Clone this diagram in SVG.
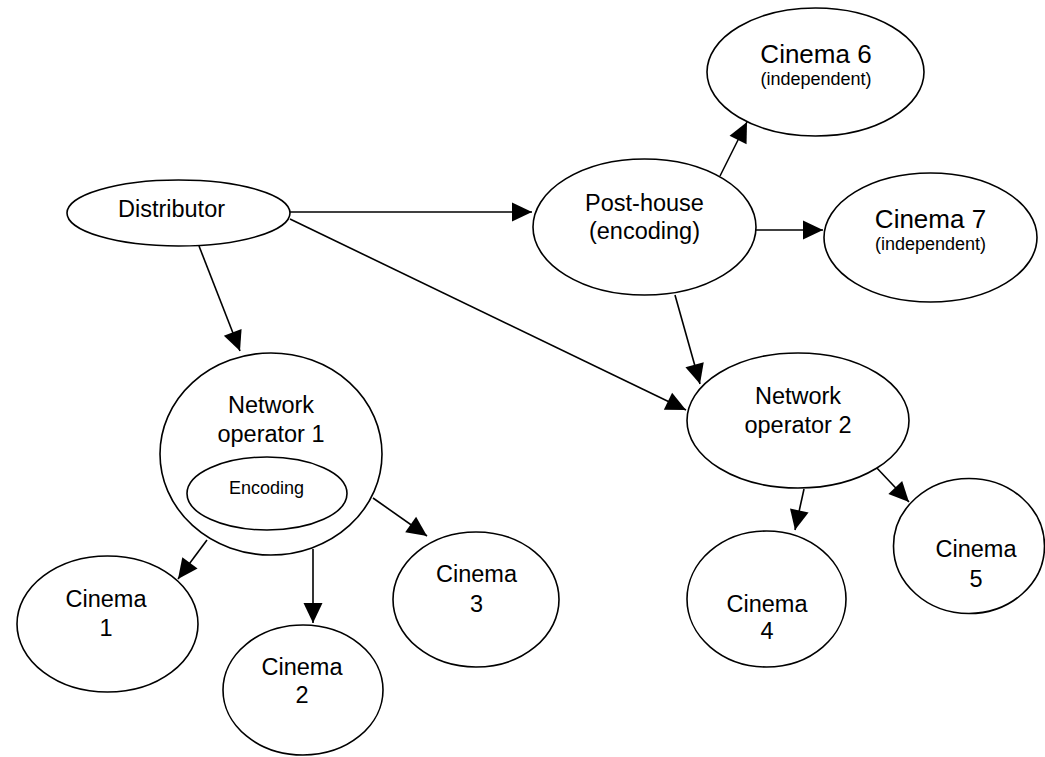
<svg xmlns="http://www.w3.org/2000/svg" width="1045" height="757" viewBox="0 0 1045 757">
<defs>
<style>
.n{fill:#fff;stroke:#000;stroke-width:1.6}
.t{font-family:"Liberation Sans",Arial,sans-serif;font-size:23.5px;fill:#000;text-anchor:middle}
.big{font-size:26px}
.sm{font-size:18px}
.c{stroke:#000;stroke-width:1.6;fill:none;marker-end:url(#ah)}
</style>
<marker id="ah" markerUnits="userSpaceOnUse" markerWidth="21" markerHeight="20" refX="20" refY="9.5" orient="auto" overflow="visible">
<path d="M0,0 L20,9.5 L0,19 z" fill="#000"/>
</marker>
</defs>
<rect width="1045" height="757" fill="#fff"/>
<g id="connectors">
<line class="c" x1="290" y1="212" x2="532" y2="212"/>
<line class="c" x1="199" y1="246" x2="240" y2="351"/>
<line class="c" x1="290" y1="219" x2="686" y2="410"/>
<line class="c" x1="720" y1="176" x2="747" y2="122"/>
<line class="c" x1="755" y1="230" x2="823" y2="230"/>
<line class="c" x1="675" y1="295" x2="700" y2="384"/>
<line class="c" x1="207" y1="540" x2="178" y2="579"/>
<line class="c" x1="313" y1="549" x2="313" y2="623"/>
<line class="c" x1="373" y1="498" x2="427" y2="536"/>
<line class="c" x1="804" y1="489" x2="795" y2="530"/>
<line class="c" x1="875" y1="466" x2="909" y2="502"/>
</g>
<g id="distributor">
<ellipse class="n" cx="178.5" cy="213" rx="111.5" ry="33"/>
<text class="t" x="171.5" y="217">Distributor</text>
</g>
<g id="posthouse">
<ellipse class="n" cx="644.5" cy="227" rx="111.5" ry="68"/>
<text class="t" x="644.5" y="211">Post-house</text>
<text class="t" x="644.5" y="239">(encoding)</text>
</g>
<g id="cinema6">
<ellipse class="n" cx="815.5" cy="72" rx="108.5" ry="64"/>
<text class="t big" x="816" y="63">Cinema 6</text>
<text class="t sm" x="816" y="85">(independent)</text>
</g>
<g id="cinema7">
<ellipse class="n" cx="930.5" cy="237.5" rx="106.5" ry="64.5"/>
<text class="t big" x="930.5" y="228">Cinema 7</text>
<text class="t sm" x="930.5" y="250">(independent)</text>
</g>
<g id="netop1">
<ellipse class="n" cx="271" cy="454" rx="111" ry="101"/>
<text class="t" x="271" y="413">Network</text>
<text class="t" x="271" y="442">operator 1</text>
<g id="encoding">
<ellipse class="n" cx="267" cy="493.5" rx="80" ry="36.5"/>
<text class="t sm" x="266.5" y="494">Encoding</text>
</g>
</g>
<g id="netop2">
<ellipse class="n" cx="798" cy="420.5" rx="111" ry="67.5"/>
<text class="t" x="798" y="404">Network</text>
<text class="t" x="798" y="433">operator 2</text>
</g>
<g id="cinema1">
<ellipse class="n" cx="107.5" cy="624" rx="90.5" ry="68"/>
<text class="t" x="106" y="607">Cinema</text>
<text class="t" x="106" y="636">1</text>
</g>
<g id="cinema2">
<ellipse class="n" cx="303" cy="690" rx="80" ry="65"/>
<text class="t" x="302" y="675">Cinema</text>
<text class="t" x="302" y="703">2</text>
</g>
<g id="cinema3">
<ellipse class="n" cx="476" cy="599.5" rx="83" ry="67.5"/>
<text class="t" x="476.5" y="582">Cinema</text>
<text class="t" x="476.5" y="612">3</text>
</g>
<g id="cinema4">
<ellipse class="n" cx="766.5" cy="599" rx="79.5" ry="68"/>
<text class="t" x="767" y="612">Cinema</text>
<text class="t" x="767" y="639">4</text>
</g>
<g id="cinema5">
<ellipse class="n" cx="969" cy="546" rx="75.5" ry="67.5"/>
<text class="t" x="976" y="557">Cinema</text>
<text class="t" x="976" y="587">5</text>
</g>
</svg>
